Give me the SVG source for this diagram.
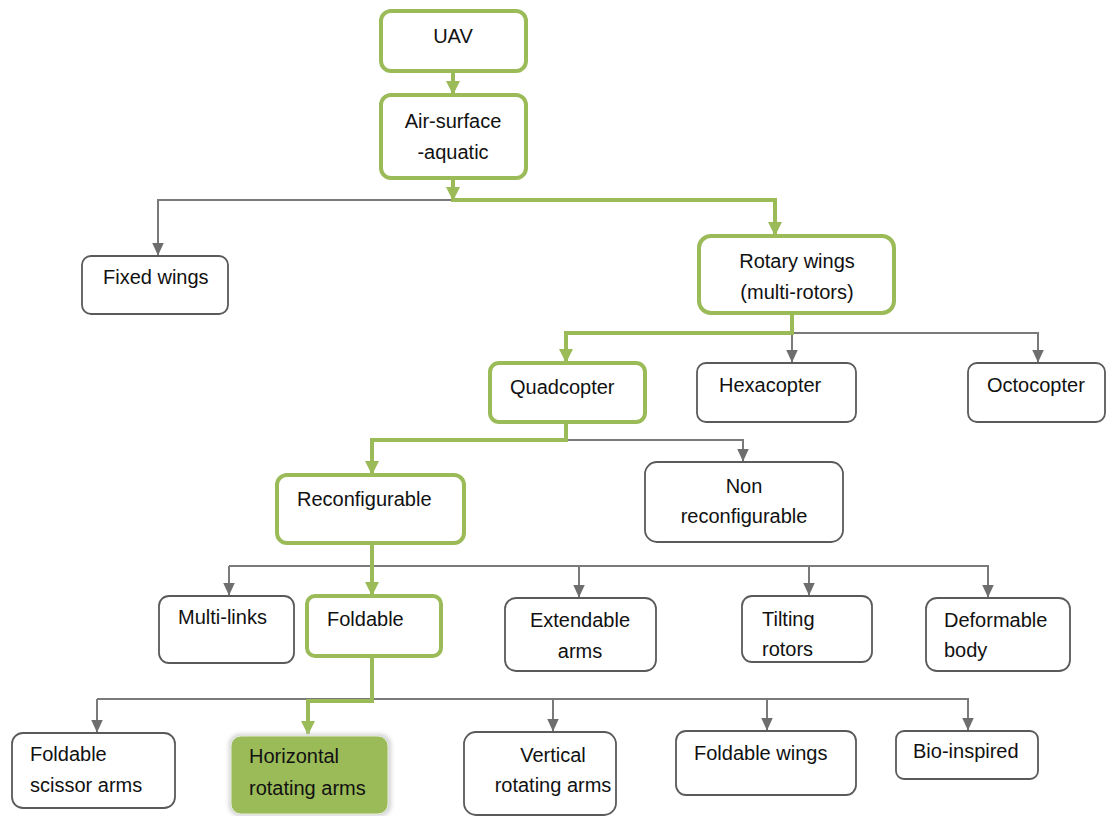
<svg xmlns="http://www.w3.org/2000/svg" width="1107" height="816" viewBox="0 0 1107 816">
<style>
text{font-family:"Liberation Sans",Arial,sans-serif;font-size:20px;fill:#111}
.g{fill:#fff;stroke:#9BBB59;stroke-width:4}
.n{fill:#fff;stroke:#5a5a5a;stroke-width:1.8}
.m{text-anchor:middle}
.cg{fill:none;stroke:#9BBB59;stroke-width:4}
.cn{fill:none;stroke:#7a7a7a;stroke-width:2}
</style>
<defs>
<marker id="ag" markerUnits="userSpaceOnUse" markerWidth="14" markerHeight="14" refX="7" refY="13" viewBox="0 0 14 14">
<path d="M0,0 L14,0 L7,14 Z" fill="#9BBB59"/>
</marker>
<marker id="an" markerUnits="userSpaceOnUse" markerWidth="12" markerHeight="13" refX="6" refY="12.5" viewBox="0 0 12 13">
<path d="M0,0 L12,0 L6,13 Z" fill="#6e6e6e"/>
</marker>
<filter id="sh" x="-10%" y="-10%" width="120%" height="120%">
<feGaussianBlur stdDeviation="2"/>
</filter>
</defs>
<rect width="1107" height="816" fill="#fff"/>
<g id="connectors">
<path class="cn" d="M453,200 H158 V255" marker-end="url(#an)"/>
<path class="cn" d="M792,333 H1038 V362" marker-end="url(#an)"/>
<path class="cn" d="M792,333 V362" marker-end="url(#an)"/>
<path class="cn" d="M566,440 H743 V461" marker-end="url(#an)"/>
<path class="cn" d="M229,566 H988 V597" marker-end="url(#an)"/>
<path class="cn" d="M229,566 V595" marker-end="url(#an)"/>
<path class="cn" d="M579,566 V597" marker-end="url(#an)"/>
<path class="cn" d="M809,566 V595" marker-end="url(#an)"/>
<path class="cn" d="M97,699 H968 V730" marker-end="url(#an)"/>
<path class="cn" d="M97,699 V732" marker-end="url(#an)"/>
<path class="cn" d="M553,699 V731" marker-end="url(#an)"/>
<path class="cn" d="M767,699 V730" marker-end="url(#an)"/>
<path class="cg" d="M453,71 V94" marker-end="url(#ag)"/>
<path class="cg" d="M453,178 V200" marker-end="url(#ag)"/>
<path class="cg" d="M451,200 H775 V235" marker-end="url(#ag)"/>
<path class="cg" d="M792,313 V333 H566 V362" marker-end="url(#ag)"/>
<path class="cg" d="M566,422 V440 H372 V474" marker-end="url(#ag)"/>
<path class="cg" d="M372,543 V595" marker-end="url(#ag)"/>
<path class="cg" d="M372,656 V701 H308 V734" marker-end="url(#ag)"/>
</g>
<g id="uav"><rect class="g" x="381" y="11" width="145" height="60" rx="10"/><text class="m" x="453" y="43">UAV</text></g>
<g id="air"><rect class="g" x="381" y="95" width="145" height="83" rx="10"/><text class="m" x="453" y="128">Air-surface</text><text class="m" x="453" y="159">-aquatic</text></g>
<g id="fixed"><rect class="n" x="82" y="256" width="146" height="58" rx="9"/><text x="103" y="284">Fixed wings</text></g>
<g id="rotary"><rect class="g" x="699" y="236" width="195" height="77" rx="12"/><text class="m" x="797" y="268">Rotary wings</text><text class="m" x="797" y="299">(multi-rotors)</text></g>
<g id="quad"><rect class="g" x="490" y="363" width="155" height="59" rx="9"/><text x="510" y="394">Quadcopter</text></g>
<g id="hexa"><rect class="n" x="697" y="363" width="159" height="59" rx="9"/><text x="719" y="392">Hexacopter</text></g>
<g id="octo"><rect class="n" x="968" y="363" width="137" height="59" rx="9"/><text x="987" y="392">Octocopter</text></g>
<g id="reconf"><rect class="g" x="277" y="475" width="187" height="68" rx="10"/><text x="297" y="506">Reconfigurable</text></g>
<g id="nonreconf"><rect class="n" x="645" y="462" width="198" height="80" rx="12"/><text class="m" x="744" y="493">Non</text><text class="m" x="744" y="523">reconfigurable</text></g>
<g id="multilinks"><rect class="n" x="159" y="596" width="135" height="67" rx="10"/><text x="178" y="624">Multi-links</text></g>
<g id="foldable"><rect class="g" x="307" y="596" width="134" height="60" rx="8"/><text x="327" y="626">Foldable</text></g>
<g id="extendable"><rect class="n" x="505" y="598" width="151" height="73" rx="11"/><text class="m" x="580" y="627">Extendable</text><text class="m" x="580" y="658">arms</text></g>
<g id="tilting"><rect class="n" x="742" y="596" width="130" height="66" rx="10"/><text x="762" y="626">Tilting</text><text x="762" y="656">rotors</text></g>
<g id="deformable"><rect class="n" x="926" y="598" width="144" height="73" rx="11"/><text x="944" y="627">Deformable</text><text x="944" y="657">body</text></g>
<g id="scissor"><rect class="n" x="12" y="733" width="163" height="75" rx="11"/><text x="30" y="761">Foldable</text><text x="30" y="792">scissor arms</text></g>
<g id="horizontal"><rect x="229" y="734" width="162" height="82" rx="11" fill="#d0d0d0" filter="url(#sh)"/><rect x="231" y="736" width="157" height="78" rx="10" fill="#9BBB59" stroke="#e8eedf" stroke-width="1"/><text x="249" y="763">Horizontal</text><text x="249" y="795">rotating arms</text></g>
<g id="vertical"><rect class="n" x="464" y="732" width="152" height="83" rx="12"/><text class="m" x="553" y="762">Vertical</text><text class="m" x="553" y="792">rotating arms</text></g>
<g id="foldwings"><rect class="n" x="676" y="731" width="180" height="64" rx="10"/><text x="694" y="760">Foldable wings</text></g>
<g id="bio"><rect class="n" x="896" y="731" width="142" height="48" rx="8"/><text x="913" y="758">Bio-inspired</text></g>
</svg>
